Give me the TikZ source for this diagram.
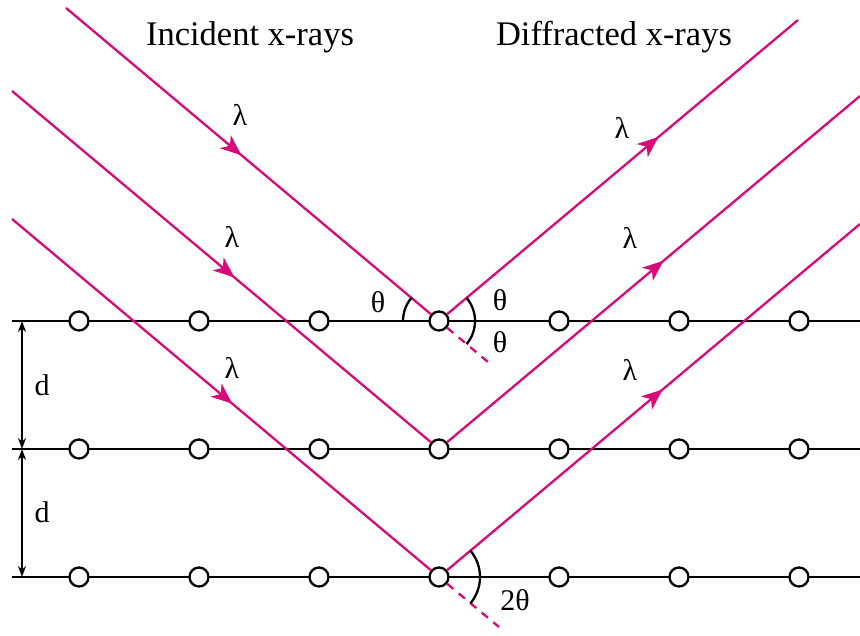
\documentclass[tikz,border=0pt]{standalone}
\usepackage{fontspec}
\setmainfont{Liberation Serif}
\usetikzlibrary{arrows.meta,decorations.markings}
\definecolor{ray}{RGB}{214,10,120}
\tikzset{
  plane/.style={line width=2.3pt,black},
  atom/.style={circle,draw=black,line width=2.3pt,fill=white,inner sep=0pt,minimum size=19pt},
  raybase/.style={line width=2.3pt,ray},
  rayarrow/.style={raybase,postaction={decorate},decoration={markings,mark=at position #1 with {\arrow{Stealth[length=21pt,width=17pt,inset=6pt]}}}},
  ext/.style={line width=2.3pt,ray,dash pattern=on 8pt off 7pt},
  anglearc/.style={line width=2.3pt,black},
  dim/.style={line width=2pt,black,{Stealth[length=11pt,width=8pt]}-{Stealth[length=11pt,width=8pt]}},
  title/.style={font=\fontsize{34.5}{40}\selectfont},
  lbl/.style={font=\fontsize{30}{34}\selectfont},
}
\begin{document}
\begin{tikzpicture}[x=1pt,y=1pt]
\useasboundingbox (0,0) rectangle (860,635);
% planes
\foreach \r/\y in {1/314,2/186,3/58}{
  \coordinate (L\r) at (12,\y);
  \coordinate (R\r) at (860,\y);
  \draw[plane] (L\r) -- (R\r);
}
% atoms
\foreach \r/\y in {1/314,2/186,3/58}{
  \foreach \c/\x in {1/79,2/199,3/319,4/439,5/559,6/679,7/799}{
    \node[atom] (a\r\c) at (\x,\y) {};
  }
}
% ray endpoints
\coordinate (s1) at (66,627);
\coordinate (s2) at (12,544);
\coordinate (s3) at (12,416);
\coordinate (t1) at (798,615);
\coordinate (t2) at (860,539);
\coordinate (t3) at (860,411);
\coordinate (e1) at (488,273);
\coordinate (e3) at (499,8);
% incident rays
\draw[rayarrow=0.481] (s1) -- (a14);
\draw[rayarrow=0.531] (s2) -- (a24);
\draw[rayarrow=0.526] (s3) -- (a34);
% diffracted rays
\draw[rayarrow=0.602] (a14) -- (t1);
\draw[rayarrow=0.524] (a24) -- (t2);
\draw[rayarrow=0.522] (a34) -- (t3);
% extensions
\draw[ext] (a14) -- (e1);
\draw[ext] (a34) -- (e3);
% angle arcs
\draw[anglearc] (439,314) ++(140:36) arc (140:180:36);
\draw[anglearc] (439,314) ++(40:36) arc (40:-40:36);
\draw[anglearc] (439,58) ++(40:41) arc (40:-40:41);
% d dimensions
\coordinate (d1) at (22,314);
\coordinate (d2) at (22,186);
\coordinate (d3) at (22,58);
\draw[dim] (d1) -- (d2);
\draw[dim] (d2) -- (d3);
% labels
\node[title] (ti) at (250,598) {Incident x-rays};
\node[title] (td) at (614,598) {Diffracted x-rays};
\node[lbl] (l1) at (240,520) {λ};
\node[lbl] (l2) at (232,398) {λ};
\node[lbl] (l3) at (232,267) {λ};
\node[lbl] (l4) at (622,507) {λ};
\node[lbl] (l5) at (630,397) {λ};
\node[lbl] (l6) at (630,265) {λ};
\node[lbl] (th1) at (378,333) {θ};
\node[lbl] (th2) at (500,335) {θ};
\node[lbl] (th3) at (500,293) {θ};
\node[lbl] (th4) at (515,35) {2θ};
\node[lbl] (dl1) at (42,250) {d};
\node[lbl] (dl2) at (42,123) {d};
\end{tikzpicture}
\end{document}
